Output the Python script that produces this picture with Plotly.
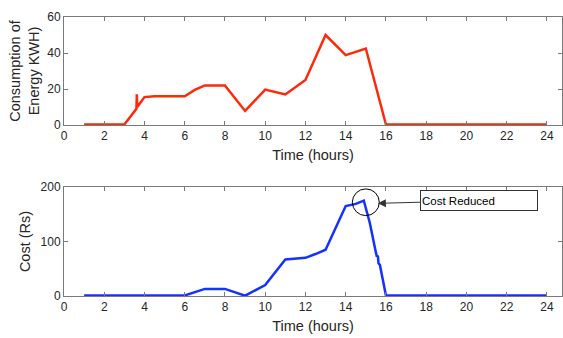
import plotly.graph_objects as go
from plotly.subplots import make_subplots

# ---- data ----
energy_hours = [1, 2, 3, 3.6, 3.62, 3.64, 4, 4.5, 5, 6, 6.5, 7, 8, 9, 10, 11, 12, 13, 14, 15, 16,
                17, 18, 19, 20, 21, 22, 23, 24]
energy_kwh = [0.3, 0.3, 0.3, 9, 17, 10, 15.5, 16, 16, 16, 19.5, 22, 22, 7.8, 19.7, 17, 25, 50, 38.8, 42.5, 0.3,
              0.3, 0.3, 0.3, 0.3, 0.3, 0.3, 0.3, 0.3]

cost_hours = [1, 2, 3, 4, 5, 6, 7, 8, 9, 10, 11, 12, 12.5, 13, 14, 14.5, 14.9, 15.2, 15.5, 15.55, 15.6,
              15.63, 15.7, 15.82, 16, 17, 18, 19, 20, 21, 22, 23, 24]
cost_rs = [1, 1, 1, 1, 0.5, 1, 13, 13, 0.5, 20, 67, 70, 77, 85, 165, 169, 175, 134, 80, 72, 74,
           60, 57, 35, 0.8, 1, 1, 1, 0.5, 1, 1, 1, 1]

x_ticks = [0, 2, 4, 6, 8, 10, 12, 14, 16, 18, 20, 22, 24]
energy_ticks = [0, 20, 40, 60]
cost_ticks = [0, 100, 200]

annot_text = "Cost Reduced"

# ---- figure ----
fig = make_subplots(rows=2, cols=1, vertical_spacing=0.2)

fig.add_trace(go.Scatter(x=energy_hours, y=energy_kwh, mode="lines",
                         line=dict(color="rgb(255,40,10)", width=2.5)), row=1, col=1)
fig.add_trace(go.Scatter(x=cost_hours, y=cost_rs, mode="lines",
                         line=dict(color="rgb(20,50,255)", width=2.5)), row=2, col=1)

axis_col = "#7a7a7a"
font_col = "#262626"
title_size = 14.5
common_x = dict(range=[0, 24.75], tickvals=x_ticks, ticks="inside", ticklen=4, tickcolor=axis_col,
                showline=True, linecolor=axis_col, linewidth=1, mirror="ticks", showgrid=False,
                zeroline=False, tickfont=dict(size=12, color=font_col),
                title=dict(text="Time (hours)", font=dict(size=title_size, color=font_col), standoff=7))
fig.update_xaxes(**common_x)

fig.update_yaxes(range=[0, 60], tickvals=energy_ticks, row=1, col=1,
                 title=dict(text="Consumption of<br>Energy KWH)", font=dict(size=title_size, color=font_col), standoff=4))
fig.update_yaxes(range=[0, 200], tickvals=cost_ticks, row=2, col=1,
                 title=dict(text="Cost (Rs)", font=dict(size=title_size, color=font_col), standoff=6))
fig.update_yaxes(ticks="inside", ticklen=4, tickcolor=axis_col, showline=True, linecolor=axis_col,
                 linewidth=1, mirror="ticks", showgrid=False, zeroline=False,
                 tickfont=dict(size=12, color=font_col))

fig.update_layout(
    xaxis=dict(domain=[0, 1]),
    yaxis=dict(domain=[0.6129, 1.0]),
    yaxis2=dict(domain=[0.0, 0.3907]),
    width=563, height=338,
    margin=dict(l=64, r=1, t=17, b=42),
    paper_bgcolor="white", plot_bgcolor="white",
    showlegend=False,
    font=dict(family="Liberation Sans, Arial, sans-serif", color=font_col),
)

# circle around the peak cost
peak_idx = max(range(len(cost_rs)), key=lambda i: cost_rs[i])
px_, py_ = cost_hours[peak_idx] + 0.1, cost_rs[peak_idx] - 3
fig.add_shape(type="circle", xref="x2", yref="y2",
              x0=px_ - 0.67, x1=px_ + 0.67, y0=py_ - 24.5, y1=py_ + 24.5,
              line=dict(color="black", width=1))

# annotation box with arrow
fig.add_annotation(xref="x2", yref="y2", x=px_ + 0.6, y=py_ - 2,
                   axref="x2", ayref="y2", ax=20.6, ay=py_ + 3,
                   text=annot_text, showarrow=True, arrowhead=2, arrowsize=1.6, arrowwidth=1,
                   arrowcolor="#333333", align="left", width=114, height=17,
                   bordercolor="#333333", borderwidth=1, borderpad=1, bgcolor="white",
                   font=dict(size=11.5, color="black"))

fig.write_html("out.html", config={"displayModeBar": False},
               post_script="document.body.style.margin='0px';document.body.style.overflow='hidden';")
